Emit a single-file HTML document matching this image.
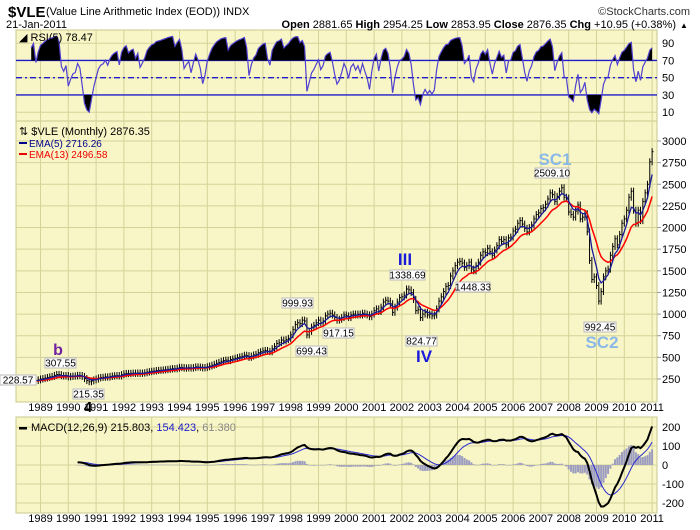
<!DOCTYPE html>
<html><head><meta charset="utf-8"><style>
body{margin:0;background:#fff;}
svg{display:block;font-family:"Liberation Sans",sans-serif;}
</style></head><body>
<svg id="chart" width="700" height="530" viewBox="0 0 700 530">
<defs>
<clipPath id="cpMain"><rect x="16" y="121" width="641" height="281"/></clipPath>
<clipPath id="cpRsi"><rect x="16" y="30" width="641" height="91"/></clipPath>
<clipPath id="cpMacd"><rect x="16" y="417" width="641" height="96"/></clipPath>
<clipPath id="cpAbove70"><rect x="16" y="30" width="641" height="30.5"/></clipPath>
<clipPath id="cpBelow30"><rect x="16" y="95" width="641" height="26"/></clipPath>
</defs>
<g id="bg">
<rect x="16" y="30" width="641" height="91" fill="#f8f6c6" stroke="#c9c88e"/>
<rect x="16" y="121" width="641" height="281" fill="#f8f6c6" stroke="#c9c88e"/>
<rect x="16" y="417" width="641" height="96" fill="#f8f6c6" stroke="#c9c88e"/>
</g>
<g id="grid"></g>
<g id="marks"></g>
<g id="axes"></g>
<g>
<text x="8" y="17" font-size="15" font-weight="bold">$VLE</text>
<text x="46" y="15" font-size="11">(Value Line Arithmetic Index (EOD))  INDX</text>
<text x="690" y="15" font-size="11" text-anchor="end" fill="#333">©StockCharts.com</text>
<text x="6" y="28" font-size="11">21-Jan-2011</text>
<text x="676" y="28" font-size="11" text-anchor="end"><tspan font-weight="bold">Open</tspan> 2881.65 <tspan font-weight="bold">High</tspan> 2954.25 <tspan font-weight="bold">Low</tspan> 2853.95 <tspan font-weight="bold">Close</tspan> 2876.35 <tspan font-weight="bold">Chg</tspan> +10.95 (+0.38%)</text>
<text x="680" y="28" font-size="8">▲</text>
<text x="19" y="41" font-size="11">◢ RSI(5) 78.47</text>
<text x="19" y="135" font-size="11">⇅ $VLE (Monthly) 2876.35</text>
<rect x="19" y="142" width="8" height="2" fill="#00008b"/>
<text x="29" y="147" font-size="10" fill="#00008b">EMA(5) 2716.26</text>
<rect x="19" y="153" width="8" height="2" fill="#e00"/>
<text x="29" y="158" font-size="10" fill="#e00">EMA(13) 2496.58</text>
<rect x="19" y="427" width="8" height="2.5" fill="#000"/>
<text x="31" y="431" font-size="11">MACD(12,26,9) 215.803, <tspan fill="#1a1acc">154.423</tspan>, <tspan fill="#888">61.380</tspan></text>
</g>
<g id="annot"></g>
</svg>
<script>
// ---- data (monthly closes, Apr 1988 .. Jan 2011) ----
const startYear = 1988, startMonth = 3; // April (0-based)
const closes = [
222,226,230,229,
228,231,236,232,240,
250,255,262,268,275,280,292,302,300,288,285,290,
275,280,284,285,292,290,280,255,232,218,228,240,
250,262,268,270,275,272,280,285,288,290,285,300,
310,315,312,316,318,315,320,315,318,322,330,335,
340,342,348,350,352,355,358,362,366,370,368,375,
385,382,375,378,380,376,382,390,388,385,378,382,
392,400,410,420,432,442,455,462,468,462,475,482,
490,498,505,512,525,520,500,515,528,535,555,565,
575,580,570,565,600,625,660,670,700,690,705,720,
760,820,880,900,890,930,920,760,800,850,870,900,
930,900,920,980,1000,1010,990,960,930,940,960,990,
980,960,990,1000,990,1000,990,1010,1000,990,970,1000,
1040,1060,1030,1080,1140,1160,1150,1120,1020,1080,1140,1190,
1200,1220,1290,1280,1250,1170,1040,1050,960,1000,1020,990,
1000,980,990,1060,1150,1200,1260,1320,1330,1440,1500,1560,
1600,1610,1590,1540,1560,1600,1520,1500,1560,1600,1680,1720,
1710,1760,1720,1680,1740,1790,1860,1840,1860,1800,1880,1890,
1960,1980,2050,2080,2040,1990,1950,2000,2030,2100,2150,2170,
2220,2230,2270,2330,2400,2380,2300,2360,2420,2460,2350,2340,
2180,2150,2120,2190,2260,2100,2120,2160,1950,1620,1400,1430,
1330,1150,1260,1430,1500,1520,1680,1780,1870,1800,1920,2050,
2100,2200,2350,2420,2200,2050,2200,2080,2300,2400,2500,2760,
2876
];
const years = [1989,1990,1991,1992,1993,1994,1995,1996,1997,1998,1999,2000,2001,2002,2003,2004,2005,2006,2007,2008,2009,2010,2011];
const priceTicks = [250,500,750,1000,1250,1500,1750,2000,2250,2500,2750,3000];
const rsiTicks = [90,70,50,30,10];
const macdTicks = [200,100,0,-100,-200];
const annotations = [
 {t:"228.57",x:0,y:375,w:36},{t:"307.55",x:45,y:358,w:31},{t:"215.35",x:73,y:389,w:31},
 {t:"999.93",x:282,y:298,w:31},{t:"699.43",x:296,y:346,w:31},{t:"917.15",x:323,y:328,w:31},
 {t:"1338.69",x:390,y:270,w:35},{t:"824.77",x:406,y:336,w:31},{t:"1448.33",x:456,y:282,w:34},
 {t:"2509.10",x:535,y:168,w:34},{t:"992.45",x:584,y:322,w:32}
];
// ---- scales ----
const xYear = t => 40.5 + (t - 1989) * 27.8;
const xIdx = i => xYear(startYear + (startMonth + i) / 12);
const yPrice = v => 379 - (v - 250) * 0.08655;
const yRsi = v => 77.7 - (v - 50) * 0.8625;
const yMacd = v => 465 - v * 0.19;
const NS = "http://www.w3.org/2000/svg";
function mk(tag, attrs, parent){const e=document.createElementNS(NS,tag);for(const k in attrs)e.setAttribute(k,attrs[k]);parent.appendChild(e);return e;}
const grid=document.getElementById('grid'), marks=document.getElementById('marks'), axes=document.getElementById('axes'), annot=document.getElementById('annot');
const gc="#d4d39a";
years.forEach(y=>{
 const x=xYear(y);
 [[30,121],[121,402],[417,513]].forEach(r=>{
  const l=mk('line',{x1:x,x2:x,y1:r[0],y2:r[1],stroke:gc,'stroke-width':1},grid);
  
  
 });
 [411,522].forEach(yy=>{
  const t=mk('text',{x:x,y:yy,'font-size':11,'text-anchor':'middle'},axes);t.textContent=y;
  
  
 });
});
priceTicks.forEach(v=>{
 const y=yPrice(v);
 const l=mk('line',{x1:16,x2:657,y1:y,y2:y,stroke:gc},grid);
 
 
 mk('line',{x1:657,x2:661,y1:y,y2:y,stroke:'#999'},axes);
 const t=mk('text',{x:662,y:y+4,'font-size':11},axes);t.textContent=v;
 
 
});
rsiTicks.forEach(v=>{
 const y=yRsi(v);
 const l=mk('line',{x1:16,x2:657,y1:y,y2:y,stroke:gc},grid);
 
 
 const t=mk('text',{x:662,y:y+4,'font-size':11},axes);t.textContent=v;
 
 
});
macdTicks.forEach(v=>{
 const y=yMacd(v);
 const l=mk('line',{x1:16,x2:657,y1:y,y2:y,stroke:gc},grid);
 
 
 const t=mk('text',{x:662,y:y+4,'font-size':11},axes);t.textContent=v;
 
 
});
[[70,''],[50,'6,3,2,3'],[30,'']].forEach(([v,d])=>{
 const l=mk('line',{x1:16,x2:657,y1:yRsi(v),y2:yRsi(v),stroke:'#1c1ccc','stroke-width':1.3,'stroke-dasharray':d},marks);
 
 
});
function ema(arr,n){const k=2/(n+1);const o=[];arr.forEach((v,i)=>o.push(i?v*k+o[i-1]*(1-k):v));return o;}
const e5=ema(closes,5), e13=ema(closes,13);
const e12=ema(closes,12), e26=ema(closes,26);
const macd=closes.map((_,i)=>e12[i]-e26[i]);
const sig=ema(macd,9);
const rsi=[];let ag=0,al=0;
for(let i=1;i<closes.length;i++){const d=closes[i]-closes[i-1];const g=Math.max(d,0),l=Math.max(-d,0);
 if(i<=5){ag+=g/5;al+=l/5;}else{ag=(ag*4+g)/5;al=(al*4+l)/5;}
 if(i>=5)rsi[i]=al===0?100:100-100/(1+ag/al);}
let pts=[];for(let i=5;i<closes.length;i++)pts.push([xIdx(i),yRsi(rsi[i])]);
const ptsStr=pts.map(p=>p[0].toFixed(1)+','+p[1].toFixed(1)).join(' ');
const a70=mk('polygon',{points:pts[0][0]+','+yRsi(70)+' '+ptsStr+' '+pts[pts.length-1][0]+','+yRsi(70),fill:'#000','clip-path':'url(#cpAbove70)'},marks);


const a30=mk('polygon',{points:pts[0][0]+','+yRsi(30)+' '+ptsStr+' '+pts[pts.length-1][0]+','+yRsi(30),fill:'#000','clip-path':'url(#cpBelow30)'},marks);


const rl=mk('polyline',{points:ptsStr,fill:'none',stroke:'#5040d0','stroke-width':1.2,'clip-path':'url(#cpRsi)'},marks);


const bars=mk('g',{'clip-path':'url(#cpMain)',stroke:'#000','stroke-width':1},marks);


for(let i=1;i<closes.length;i++){
 const x=xIdx(i), p=closes[i-1], c=closes[i];
 const hi=Math.max(p,c), lo=Math.min(p,c);
 const b=mk('line',{x1:x,x2:x,y1:yPrice(hi)-3.5,y2:yPrice(lo)+3.5},bars);
 
 
 mk('line',{x1:x,x2:x+1.5,y1:yPrice(c),y2:yPrice(c)},bars);
}
function line(arr,from,xf,yf,attrs,name,clip){
 const s=[];for(let i=from;i<arr.length;i++)s.push(xf(i).toFixed(1)+','+yf(arr[i]).toFixed(1));
 const e=mk('polyline',Object.assign({points:s.join(' '),fill:'none','clip-path':clip},attrs),marks);
 
 
 return e;}
line(e13,0,xIdx,yPrice,{stroke:'#f00','stroke-width':1.5},'ema13-line','url(#cpMain)');
line(e5,0,xIdx,yPrice,{stroke:'#1a1a9a','stroke-width':1.3},'ema5-line','url(#cpMain)');
const m0=25;
const hg=mk('g',{fill:'#9c9cc0','clip-path':'url(#cpMacd)'},marks);


for(let i=m0;i<closes.length;i++){
 const h=macd[i]-sig[i];const y0=yMacd(0),y1=yMacd(h);
 const r=mk('rect',{x:xIdx(i)-1,y:Math.min(y0,y1),width:2,height:Math.max(0.5,Math.abs(y1-y0))},hg);
 
 
}
line(sig,m0,xIdx,yMacd,{stroke:'#2a2ad0','stroke-width':1},'macd-signal-line','url(#cpMacd)');
line(macd,m0,xIdx,yMacd,{stroke:'#000','stroke-width':2},'macd-line','url(#cpMacd)');
annotations.forEach(a=>{
 const r=mk('rect',{x:a.x,y:a.y,width:a.w,height:10,fill:'#fff',stroke:'#bbb'},annot);
 
 
 const t=mk('text',{x:a.x+a.w/2,y:a.y+8.5,'font-size':10,'text-anchor':'middle'},annot);t.textContent=a.t;
 
 
});
const waves=[["b",58,355,"#7020a0",16],["4",88,412,"#000",15],["III",405,265,"#1a1adc",17],["IV",424,362,"#1a1adc",17],["SC1",555,165,"#8ab8e8",17],["SC2",602,348,"#8ab8e8",17]];
waves.forEach(w=>{
 const t=mk('text',{x:w[1],y:w[2],'font-size':w[4],'font-weight':'bold',fill:w[3],'text-anchor':'middle'},annot);t.textContent=w[0];
 
 
});
</script>
</body></html>
